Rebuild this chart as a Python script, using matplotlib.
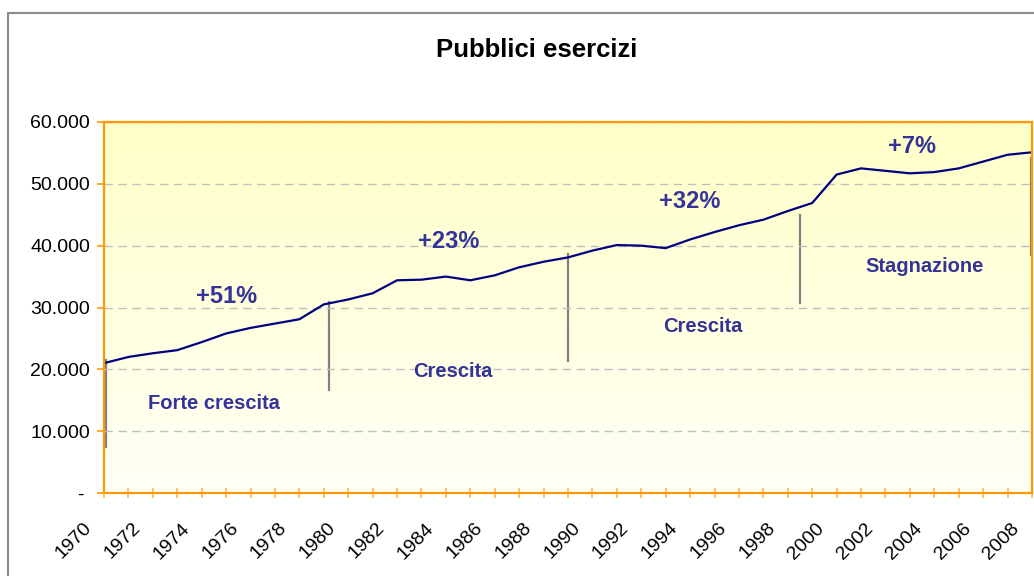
import numpy as np
import matplotlib
matplotlib.use("Agg")
import matplotlib.pyplot as plt
from matplotlib.patches import Rectangle
from matplotlib.transforms import ScaledTranslation

plt.rcParams['font.family'] = ['Liberation Sans', 'DejaVu Sans']

# Data: number of "pubblici esercizi" per year
years = list(range(1970, 2009))
values = [21000, 22000, 22600, 23100, 24400, 25800, 26700, 27400, 28100, 30500,
          31300, 32300, 34400, 34500, 35000, 34400, 35200, 36500, 37400, 38100,
          39200, 40100, 40000, 39600, 41000, 42200, 43300, 44200, 45600, 46900,
          51500, 52500, 52100, 51700, 51900, 52500, 53600, 54700, 55100]

y_ticks = [0, 10000, 20000, 30000, 40000, 50000, 60000]
y_tick_labels = ['- ', '10.000', '20.000', '30.000', '40.000', '50.000', '60.000']

# Period dividers (x position in years, bottom, top)
divider_x = [1970.1, 1979.2, 1989.0, 1998.5, 2007.97]
divider_lo = [7500, 16700, 21400, 30800, 38500]
divider_hi = [21500, 30900, 38600, 45000, 54100]

# Period annotations
pct_labels = ['+51%', '+23%', '+32%', '+7%']
pct_x = [1975.0, 1984.1, 1994.0, 2003.1]
pct_y = [31700, 40600, 47100, 56000]
phase_labels = ['Forte crescita', 'Crescita', 'Crescita', 'Stagnazione']
phase_x = [1974.5, 1984.3, 1994.5, 2003.6]
phase_y = [14400, 19700, 27000, 36700]

ORANGE = '#FF9900'
TXT = '#333399'

fig = plt.figure(figsize=(10.34, 5.76), dpi=100)
fig.patch.set_facecolor('white')

# outer chart border (runs off the right and bottom edges)
fig.patches.append(Rectangle((8 / 1034, -0.05), 1.2, (576 - 13) / 576 + 0.05,
                             transform=fig.transFigure, fill=False,
                             edgecolor='#8C8C8C', linewidth=1.5))

ax = fig.add_axes([104 / 1034, 83 / 576, 928 / 1034, 371 / 576])

# gradient background: pale yellow on top, near white at bottom
grad = np.linspace(0, 1, 256).reshape(-1, 1)
cmap = matplotlib.colors.LinearSegmentedColormap.from_list('bg', ['#FFFFF6', '#FFFFC8'])
ax.imshow(grad, cmap=cmap, aspect='auto', extent=[0, 1, 0, 1],
          transform=ax.transAxes, origin='lower', zorder=0)

ax.plot(years, values, color='#000080', linewidth=1.6, zorder=3)

for x, lo, hi in zip(divider_x, divider_lo, divider_hi):
    ax.plot([x, x], [lo, hi], color='#808080', linewidth=1.6, zorder=2)

for s, x, y in zip(pct_labels, pct_x, pct_y):
    ax.text(x, y, s, color=TXT, fontsize=17, fontweight='bold', ha='center', va='center', zorder=4)
for s, x, y in zip(phase_labels, phase_x, phase_y):
    ax.text(x, y, s, color=TXT, fontsize=14.5, fontweight='bold', ha='center', va='center', zorder=4)

ax.set_xlim(1970, 2008)
ax.set_ylim(0, 60000)

ax.tick_params(axis='y', direction='out', length=5, width=1.2, color=ORANGE, pad=5)
ax.tick_params(axis='x', direction='inout', length=7, width=1.2, color='#FFB84D', pad=20)

ax.set_yticks(y_ticks)
ax.set_yticklabels(y_tick_labels, fontsize=14)
ax.set_xticks(years)
ax.set_xticklabels([str(y) if y % 2 == 0 else '' for y in years], fontsize=14,
                   rotation=45, ha='right', va='center', rotation_mode='anchor')

# shift the slanted year labels to the left, like the original
shift = ScaledTranslation(-0.15, 0, fig.dpi_scale_trans)
for tick in ax.xaxis.get_major_ticks():
    tick.label1.set_transform(tick.label1.get_transform() + shift)

ax.grid(axis='y', color='#BFBFBF', linestyle=(0, (6, 4)), linewidth=1)
ax.set_axisbelow(False)
for g in ax.get_ygridlines():
    g.set_zorder(1)

for sp in ax.spines.values():
    sp.set_color(ORANGE)
    sp.set_linewidth(1.6)
    sp.set_zorder(5)

fig.text(537 / 1034, (576 - 50) / 576, 'Pubblici esercizi', fontsize=18.5,
         fontweight='bold', ha='center', va='center')

fig.savefig('out.png', dpi=100)
